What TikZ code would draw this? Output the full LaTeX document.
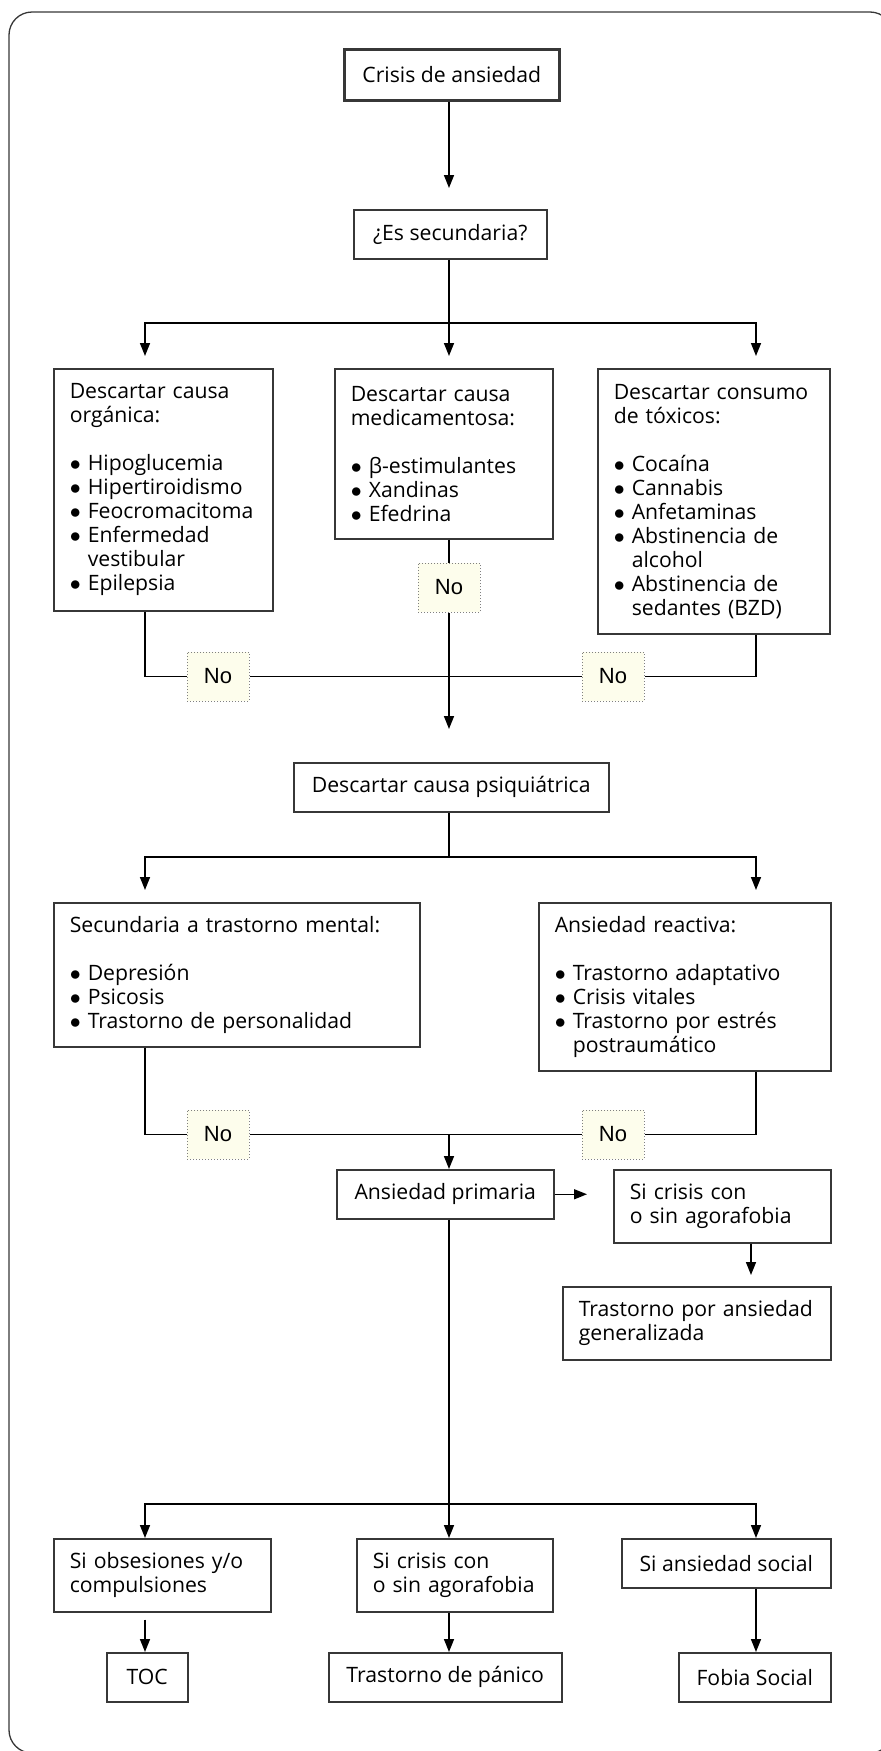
\documentclass[tikz,border=0pt]{standalone}
\usepackage{fontspec}
\setmainfont{Open Sans}
\newfontfamily\arialfont{Liberation Sans}
\usepackage{xcolor}
\usepackage{tikz}
\usetikzlibrary{arrows.meta}
\definecolor{crema}{RGB}{253,253,236}
\definecolor{borde}{RGB}{55,55,55}
\hyphenpenalty=10000
\exhyphenpenalty=10000
\tikzset{>={Triangle[length=6.5pt,width=5pt]}}
\tikzset{%
    caja/.style={%
        draw=borde, line width=0.75pt, anchor=north west,
        inner xsep=8pt, inner ysep=0pt,
        font=\fontsize{10.6}{12}\selectfont
    },
    lista/.style={caja, align=left, text width=#1},
    nocaja/.style={%
        draw=gray, densely dotted, fill=crema, line width=0.5pt,
        minimum width=31pt, minimum height=24.5pt, inner sep=0pt,
        font=\arialfont\fontsize{11}{13}\selectfont
    }
}
\newcommand{\bul}{$\bullet$~}
\newcommand{\sangr}{\hphantom{$\bullet$~}}

\begin{document}
\begin{tikzpicture}[x=0.5pt,y=-0.5pt,line width=0.75pt]
\useasboundingbox (0,0) rectangle (881,1751);
\begin{scope}
    \clip (0,0) rectangle (881,1751);
    \draw[borde, line width=0.65pt, rounded corners=11.5pt] (9,12) rectangle (893,1753);
\end{scope}
\coordinate (colA) at (145,0);
\coordinate (colB) at (449,0);
\coordinate (colC) at (756,0);
\coordinate (colD) at (751,0);
\coordinate (hubA) at (449,323);
\coordinate (hubB) at (449,857);
\coordinate (hubC) at (449,1504);

\node[caja, line width=1.3pt, minimum width=107.5pt, minimum height=25.5pt] (crisis) at (343,48) {Crisis de ansiedad};
\node[caja, minimum width=96.5pt, minimum height=24.5pt] (secund) at (353,209) {¿Es secundaria?};
\node[lista=93.5pt, minimum height=121pt] (organ) at (53,368) {Descartar causa\\ orgánica:\\[12pt] \bul Hipoglucemia\\ \bul Hipertiroidismo\\ \bul \mbox{Feocromacitoma}\\ \bul Enfermedad\\ \sangr vestibular\\ \bul Epilepsia};
\node[lista=93pt, minimum height=85pt] (medic) at (334,368) {Descartar causa\\ medicamentosa:\\[12pt] \bul β-estimulantes\\ \bul Xandinas\\ \bul Efedrina};
\node[lista=100pt, minimum height=132.5pt] (toxic) at (597,368) {\mbox{Descartar consumo}\\ de tóxicos:\\[12pt] \bul Cocaína\\ \bul Cannabis\\ \bul Anfetaminas\\ \bul \mbox{Abstinencia de}\\ \sangr alcohol\\ \bul \mbox{Abstinencia de}\\ \sangr \mbox{sedantes (BZD)}};
\node[nocaja] (noM) at (449,587.5) {No};
\node[nocaja] (noA) at (218,676.5) {No};
\node[nocaja] (noB) at (613,676.5) {No};
\node[caja, minimum width=157.5pt, minimum height=24.5pt] (psiq) at (293,762) {Descartar causa psiquiátrica};
\node[lista=167pt, minimum height=72pt] (mental) at (53,902) {Secundaria a trastorno mental:\\[12pt] \bul Depresión\\ \bul Psicosis\\ \bul Trastorno de personalidad};
\node[lista=130pt, minimum height=84pt] (reactiva) at (538,902) {Ansiedad reactiva:\\[12pt] \bul Trastorno adaptativo\\ \bul Crisis vitales\\ \bul \mbox{Trastorno por estrés}\\ \sangr postraumático};
\node[nocaja] (noC) at (218,1134.5) {No};
\node[nocaja] (noD) at (613,1134.5) {No};
\node[caja, minimum width=108.5pt, minimum height=24.5pt] (primaria) at (336,1169) {Ansiedad primaria};
\node[lista=92.5pt, minimum height=36.5pt] (sicrA) at (613,1169) {Si crisis con\\ \mbox{o sin agorafobia}};
\node[lista=118pt, minimum height=36.5pt] (tag) at (562,1286) {\mbox{Trastorno por ansiedad}\\ generalizada};
\node[lista=92.5pt, minimum height=36.5pt] (obses) at (53,1538) {\mbox{Si obsesiones y/o}\\ compulsiones};
\node[lista=82pt, minimum height=36.5pt] (sicrB) at (356,1538) {Si crisis con\\ \mbox{o sin agorafobia}};
\node[caja, minimum width=104.5pt, minimum height=24.5pt] (social) at (621,1538) {Si ansiedad social};
\node[caja, minimum width=40.5pt, minimum height=24.5pt] (toc) at (106,1652) {TOC};
\node[caja, minimum width=116.5pt, minimum height=24.5pt] (panico) at (328,1652) {Trastorno de pánico};
\node[caja, minimum width=76pt, minimum height=24.5pt] (fobia) at (678,1652) {Fobia Social};

% secundaria
\draw[->, shorten >=10.5pt] (colB |- crisis.south) -- (colB |- secund.north);
\draw (colB |- secund.south) -- (hubA);
\draw[->, shorten >=6pt] (hubA) -| (colA |- organ.north);
\draw[->, shorten >=6pt] (hubA) -- (colB |- medic.north);
\draw[->, shorten >=6pt] (hubA) -| (colC |- toxic.north);
\draw (colA |- organ.south) |- (noA.west);
\draw (noA.east) -- (noB.west);
\draw (colC |- toxic.south) |- (noB.east);
\draw (colB |- medic.south) -- (noM.north);
\draw[->, shorten >=16.5pt] (noM.south) -- (colB |- psiq.north);
% psiquiatrica
\draw (colB |- psiq.south) -- (hubB);
\draw[->, shorten >=6pt] (hubB) -| (colA |- mental.north);
\draw[->, shorten >=6pt] (hubB) -| (colC |- reactiva.north);
\draw (colA |- mental.south) |- (noC.west);
\draw (noC.east) -- (noD.west);
\draw (colC |- reactiva.south) |- (noD.east);
\draw[->] (colB |- noC.east) -- (colB |- primaria.north);
% primaria
\draw[->, shorten >=13pt] (primaria.east) -- (primaria.east -| sicrA.west);
\draw[->, shorten >=5.5pt] (colD |- sicrA.south) -- (colD |- tag.north);
\draw (colB |- primaria.south) -- (hubC);
\draw[->] (hubC) -| (colA |- obses.north);
\draw[->] (hubC) -- (colB |- sicrB.north);
\draw[->] (hubC) -| (colC |- social.north);
\draw[->, shorten <=3.5pt] (colA |- obses.south) -- (colA |- toc.north);
\draw[->] (colB |- sicrB.south) -- (colB |- panico.north);
\draw[->] (colC |- social.south) -- (colC |- fobia.north);
\end{tikzpicture}
\end{document}
